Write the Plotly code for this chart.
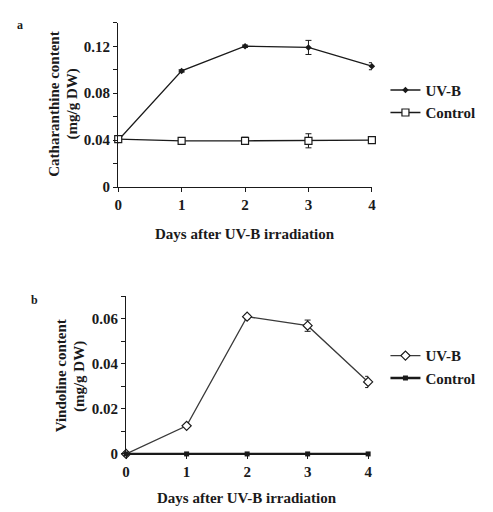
import plotly.graph_objects as go

days = [0, 1, 2, 3, 4]

# Panel a: Catharanthine content (mg/g DW)
cath_uvb = [0.040, 0.099, 0.120, 0.119, 0.103]
cath_uvb_err = [0.0, 0.001, 0.001, 0.006, 0.003]
cath_ctrl = [0.041, 0.0395, 0.0395, 0.0395, 0.040]
cath_ctrl_err = [0.0, 0.001, 0.003, 0.006, 0.001]

# Panel b: Vindoline content (mg/g DW)
vind_uvb = [0.0, 0.0125, 0.061, 0.057, 0.032]
vind_uvb_err = [0.0, 0.0005, 0.001, 0.0025, 0.0025]
vind_ctrl = [0.0, 0.0, 0.0, 0.0, 0.0]

FONT = "Liberation Serif"
INK = "#1a1a1a"

fig = go.Figure()

def err(v):
    return dict(type="data", array=v, visible=True, color=INK, thickness=1, width=3)

fig.add_trace(go.Scatter(x=days, y=cath_uvb, error_y=err(cath_uvb_err), mode="lines+markers",
                         name="UV-B", line=dict(color=INK, width=1.3), cliponaxis=False,
                         marker=dict(symbol="diamond", size=5, color=INK),
                         xaxis="x", yaxis="y", legend="legend"))
fig.add_trace(go.Scatter(x=days, y=cath_ctrl, error_y=err(cath_ctrl_err), mode="lines+markers",
                         name="Control", line=dict(color=INK, width=1.3), cliponaxis=False,
                         marker=dict(symbol="square", size=7, color="white", line=dict(color=INK, width=1.2)),
                         xaxis="x", yaxis="y", legend="legend"))
fig.add_trace(go.Scatter(x=days, y=vind_uvb, error_y=err(vind_uvb_err), mode="lines+markers",
                         name="UV-B", line=dict(color="#3a3a3a", width=1.3), cliponaxis=False,
                         marker=dict(symbol="diamond", size=7, color="white", line=dict(color=INK, width=1.2)),
                         xaxis="x2", yaxis="y2", legend="legend2"))
fig.add_trace(go.Scatter(x=days, y=vind_ctrl, mode="lines+markers",
                         name="Control", line=dict(color=INK, width=2.5), cliponaxis=False,
                         marker=dict(symbol="square", size=5, color=INK),
                         xaxis="x2", yaxis="y2", legend="legend2"))

tickfont = dict(family=FONT, size=15, color=INK, weight="bold")
common_x = dict(range=[0, 4], dtick=1, showline=True, linecolor=INK, linewidth=1.2,
                ticks="outside", ticklen=4, tickcolor=INK, showgrid=False, zeroline=False,
                tickfont=tickfont, tickformat="d")
common_y = dict(showline=True, linecolor=INK, linewidth=1.2, ticks="outside", ticklen=4,
                tickcolor=INK, showgrid=False, zeroline=False, tickfont=tickfont)

legfont = dict(family=FONT, size=15, color=INK, weight="bold")

fig.update_layout(
    width=493, height=512, margin=dict(l=0, r=0, t=0, b=0),
    paper_bgcolor="white", plot_bgcolor="white",
    xaxis=dict(domain=[0.219, 0.742], anchor="y", **common_x),
    yaxis=dict(domain=[0.6445, 0.9707], anchor="x", range=[0, 0.14], tickvals=[0, 0.04, 0.08, 0.12],
               ticktext=["0", "0.04", "0.08", "0.12"],
               minor=dict(tickvals=[0.02, 0.06, 0.10, 0.14], ticks="outside", ticklen=4, tickcolor=INK),
               **common_y),
    xaxis2=dict(domain=[0.2353, 0.7343], anchor="y2", **common_x),
    yaxis2=dict(domain=[0.1152, 0.4277], anchor="x2", range=[0, 0.07], tickvals=[0, 0.02, 0.04, 0.06],
                ticktext=["0", "0.02", "0.04", "0.06"],
                minor=dict(tickvals=[0.01, 0.03, 0.05, 0.07], ticks="outside", ticklen=4, tickcolor=INK),
                **common_y),
    legend=dict(x=0.77, y=0.815, xanchor="left", yanchor="middle", bgcolor="rgba(0,0,0,0)",
                font=legfont, tracegroupgap=0, itemwidth=30),
    legend2=dict(x=0.77, y=0.288, xanchor="left", yanchor="middle", bgcolor="rgba(0,0,0,0)",
                 font=legfont, tracegroupgap=0, itemwidth=30),
    showlegend=True,
)

ann = []
def text(x, y, t, size=15, angle=0):
    ann.append(dict(x=x / 493, y=1 - y / 512, xref="paper", yref="paper", text=t, showarrow=False,
                    textangle=angle, font=dict(family=FONT, size=size, color=INK, weight="bold"),
                    xanchor="center", yanchor="middle"))

text(8, 17, "a", 12)
text(23, 297, "b", 12)
text(43, 98, "Catharanthine content", 15, -90)
text(61, 98, "(mg/g DW)", 15, -90)
text(50, 374, "Vindoline content", 15, -90)
text(68, 374, "(mg/g DW)", 15, -90)
text(237, 230, "Days after UV-B irradiation", 15)
text(239, 498, "Days after UV-B irradiation", 15)
fig.update_layout(annotations=ann)

fig.write_html("out.html")
